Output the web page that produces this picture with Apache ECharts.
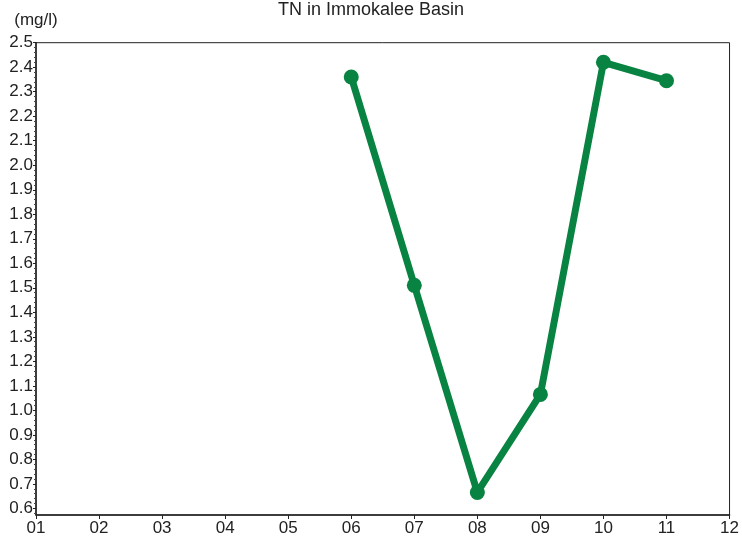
<!DOCTYPE html>
<html>
<head>
<meta charset="utf-8">
<script src="https://cdn.jsdelivr.net/npm/echarts@6/dist/echarts.min.js"></script>
<style>html,body{margin:0;padding:0;background:#fff}#c{width:742px;height:540px}</style>
</head>
<body>
<div id="c"></div>
<script>
var months = ['01','02','03','04','05','06','07','08','09','10','11','12'];
var tnValues = [null, null, null, null, null, 2.36, 1.51, 0.665, 1.065, 2.42, 2.345, null];
var yTickLabels = [0.6, 0.7, 0.8, 0.9, 1.0, 1.1, 1.2, 1.3, 1.4, 1.5, 1.6, 1.7, 1.8, 1.9, 2.0, 2.1, 2.2, 2.3, 2.4, 2.5];
var chartTitle = 'TN in Immokalee Basin';
var unitLabel = '(mg/l)';

var Y_MIN = 0.573, Y_MAX = 2.5;
var minorTicks = [];
for (var i = 0; i < yTickLabels.length; i++) {
  for (var k = -4; k <= 4; k++) {
    if (k === 0) continue;
    var mv = Math.round((yTickLabels[i] + k * 0.02) * 1000) / 1000;
    if (mv > Y_MIN && mv < Y_MAX && minorTicks.indexOf(mv) < 0) minorTicks.push(mv);
  }
}

var FONT = 'Liberation Sans';
var chart = echarts.init(document.getElementById('c'), null, {renderer: 'canvas'});
chart.setOption({
  animation: false,
  backgroundColor: '#ffffff',
  title: {
    text: chartTitle,
    left: 'center',
    top: -4,
    textStyle: {fontFamily: FONT, fontSize: 18, fontWeight: 'normal', color: '#222'}
  },
  grid: {left: 36, right: 11, top: 42.7, bottom: 25, show: true, borderColor: '#222', borderWidth: 1, containLabel: false},
  xAxis: {
    type: 'category',
    data: months,
    boundaryGap: false,
    axisLine: {lineStyle: {color: '#222', width: 1.5}},
    axisTick: {show: true, length: 4, lineStyle: {color: '#222'}},
    axisLabel: {fontFamily: FONT, fontSize: 17, color: '#222', margin: 5},
    splitLine: {show: false}
  },
  yAxis: [{
    type: 'value',
    min: Y_MIN,
    max: Y_MAX,
    name: unitLabel,
    nameLocation: 'end',
    nameGap: 22,
    nameTextStyle: {fontFamily: FONT, fontSize: 17, color: '#222', align: 'center', verticalAlign: 'middle'},
    axisLine: {show: true, lineStyle: {color: '#222', width: 1.5}},
    axisTick: {show: true, length: 3, lineStyle: {color: '#222'}, customValues: yTickLabels},
    axisLabel: {
      fontFamily: FONT, fontSize: 17, color: '#222', margin: 3,
      customValues: yTickLabels,
      formatter: function (v) { return v.toFixed(1); }
    },
    splitLine: {show: false}
  }, {
    type: 'value',
    min: Y_MIN,
    max: Y_MAX,
    position: 'left',
    axisLine: {show: false},
    axisTick: {show: true, length: 2, lineStyle: {color: '#444'}, customValues: minorTicks},
    axisLabel: {show: false},
    splitLine: {show: false}
  }],
  series: [{
    type: 'line',
    data: tnValues,
    yAxisIndex: 0,
    connectNulls: false,
    symbol: 'circle',
    symbolSize: 15,
    lineStyle: {color: '#098342', width: 7},
    itemStyle: {color: '#098342'}
  }]
});
</script>
</body>
</html>
